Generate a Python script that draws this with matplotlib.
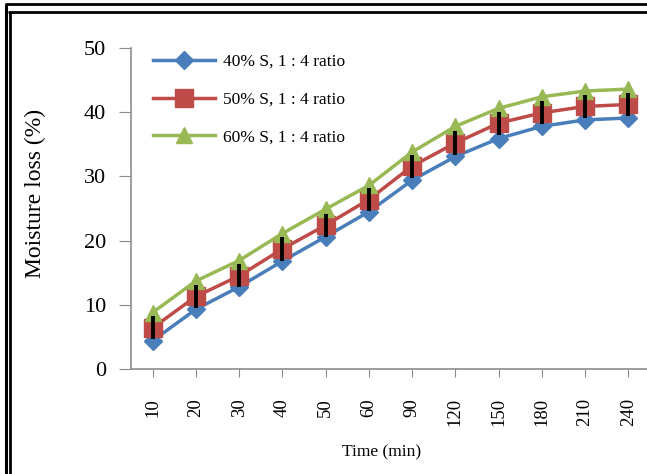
import matplotlib
matplotlib.use("Agg")
import matplotlib.pyplot as plt
from matplotlib.lines import Line2D

times = ["10", "20", "30", "40", "50", "60", "90", "120", "150", "180", "210", "240"]
s40 = [4.4, 9.3, 12.8, 16.8, 20.6, 24.5, 29.4, 33.1, 35.9, 37.8, 38.8, 39.1]
s50 = [6.4, 11.3, 14.5, 18.7, 22.4, 26.4, 31.6, 35.2, 38.3, 39.9, 40.9, 41.2]
s60 = [8.8, 13.7, 16.9, 21.1, 24.9, 28.6, 33.8, 37.8, 40.6, 42.4, 43.3, 43.6]
err50 = [1.8] * 12
labels = ["40% S, 1 : 4 ratio", "50% S, 1 : 4 ratio", "60% S, 1 : 4 ratio"]

plt.rcParams['font.family'] = ['Liberation Serif', 'DejaVu Serif']

W, H = 647, 474
fig = plt.figure(figsize=(W / 100, H / 100), dpi=100)
fig.patch.set_facecolor('white')

# double black frame
def hl(y, x0, x1, lw):
    fig.add_artist(Line2D([x0 / W, x1 / W], [1 - y / H, 1 - y / H], color='black', lw=lw,
                          transform=fig.transFigure, solid_capstyle='butt'))

def vl(x, y0, y1, lw):
    fig.add_artist(Line2D([x / W, x / W], [1 - y0 / H, 1 - y1 / H], color='black', lw=lw,
                          transform=fig.transFigure, solid_capstyle='butt'))

hl(4, 5, W, 2.0)
hl(12, 8, W, 2.0)
vl(6, 4, H, 2.2)
vl(9.5, 12, H, 2.0)

left, right = 131, 650
top, bottom = 48, 369
ax = fig.add_axes([left / W, 1 - bottom / H, (right - left) / W, (bottom - top) / H])
x = list(range(len(times)))

c_blue = '#4A7EBB'
c_red = '#BE4B48'
c_green = '#98B954'

ax.plot(x, s40, color=c_blue, lw=2.5, marker='D', ms=9, mec=c_blue, mfc=c_blue, label=labels[0], zorder=3)
ax.plot(x, s50, color=c_red, lw=2.5, marker='s', ms=12.5, mec=c_red, mfc=c_red, label=labels[1], zorder=3)
ax.plot(x, s60, color=c_green, lw=2.5, marker='^', ms=12, mec=c_green, mfc=c_green, label=labels[2], zorder=3)
ax.errorbar(x, s50, yerr=err50, fmt='none', ecolor='black', elinewidth=2.8, capsize=0, zorder=4)

ax.set_xlim(-0.5, len(times) - 0.5)
ax.set_ylim(0, 50)
ax.set_yticks([0, 10, 20, 30, 40, 50])
ax.set_xticks(x)
ax.set_xticklabels(times, rotation=90, fontsize=13.5)
ax.tick_params(axis='y', labelsize=16, length=9, color='#8C8C8C', direction='out', pad=9)
ax.tick_params(axis='x', length=6, color='#8C8C8C', direction='out', pad=15)
for s in ['top', 'right']:
    ax.spines[s].set_visible(False)
for s in ['left', 'bottom']:
    ax.spines[s].set_color('#8C8C8C')
    ax.spines[s].set_linewidth(1.2)

ax.set_ylabel('Moisture loss (%)', fontsize=17)
ax.yaxis.set_label_coords(-0.163, 0.548)
ax.set_xlabel('Time (min)', fontsize=12.5)
ax.xaxis.set_label_coords(0.482, -0.235)

leg = ax.legend(loc='upper left', bbox_to_anchor=(0.022, 1.015), frameon=False, fontsize=12.5,
                handlelength=3.6, labelspacing=1.25, handletextpad=0.45, borderaxespad=0.2)

fig.savefig('out.png', dpi=100, facecolor='white')
